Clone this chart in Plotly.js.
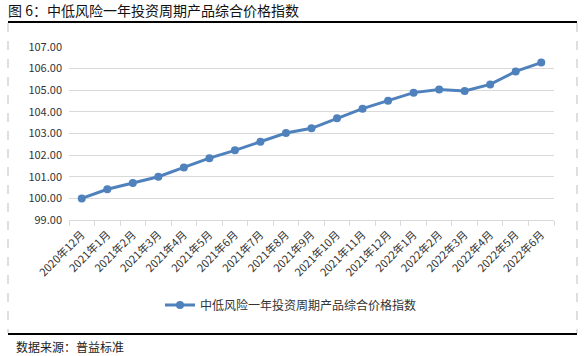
<!DOCTYPE html>
<html>
<head>
<meta charset="utf-8">
<script src="https://cdn.plot.ly/plotly-3.0.1.min.js"></script>
<style>
html,body{margin:0;padding:0;background:#fff;}
#chart{width:588px;height:356px;}
</style>
</head>
<body>
<div id="chart"></div>
<script>
const months = ["2020年12月","2021年1月","2021年2月","2021年3月","2021年4月","2021年5月","2021年6月","2021年7月","2021年8月","2021年9月","2021年10月","2021年11月","2021年12月","2022年1月","2022年2月","2022年3月","2022年4月","2022年5月","2022年6月"];
const indexValues = [100.00,100.42,100.71,101.00,101.43,101.86,102.22,102.62,103.02,103.24,103.70,104.15,104.52,104.89,105.03,104.97,105.27,105.87,106.28];
const seriesName = "中低风险一年投资周期产品综合价格指数";
const chartTitle = "图 6：中低风险一年投资周期产品综合价格指数";
const sourceText = "数据来源：普益标准";

const W = 588, H = 356;
const M = {l: 69, r: 34, t: 47, b: 136};
const PW = W - M.l - M.r, PH = H - M.t - M.b;
const px = x => (x - M.l) / PW;
const py = y => (H - M.b - y) / PH;

const FONT = '"Noto Sans CJK SC", "Noto Sans", sans-serif';
const BLUE = '#4F81BD';

const trace = {
  x: months,
  y: indexValues,
  type: 'scatter',
  mode: 'lines+markers',
  name: seriesName,
  line: {color: BLUE, width: 3},
  marker: {color: BLUE, size: 8},
  showlegend: true
};

const layout = {
  width: W, height: H,
  margin: M,
  paper_bgcolor: '#fff',
  plot_bgcolor: '#fff',
  font: {family: FONT, size: 11, color: '#333'},
  title: {
    text: chartTitle,
    x: 8 / W, xref: 'container', xanchor: 'left',
    y: 1 - 11 / H, yref: 'container', yanchor: 'middle',
    font: {family: FONT, size: 14, color: '#111'}
  },
  xaxis: {
    type: 'category',
    automargin: false,
    autorange: false,
    range: [-0.5, months.length - 0.5],
    tickson: 'boundaries',
    ticks: 'outside', ticklen: 5, tickcolor: '#d9d9d9', tickwidth: 1,
    showline: true, linecolor: '#d9d9d9', linewidth: 1,
    showgrid: false, zeroline: false,
    tickangle: -45,
    ticklabelstandoff: 3,
    tickfont: {family: FONT, size: 11, color: '#333'}
  },
  yaxis: {
    automargin: false,
    range: [99, 107], dtick: 1, tick0: 99,
    tickformat: '.2f',
    showgrid: true, gridcolor: '#d9d9d9', gridwidth: 1,
    showline: false, zeroline: false, ticks: '',
    ticklabelstandoff: 6,
    tickfont: {family: FONT, size: 11, color: '#333'}
  },
  legend: {
    orientation: 'h',
    x: px(160), xanchor: 'left',
    y: py(305), yanchor: 'middle',
    font: {family: FONT, size: 12, color: '#333'},
    bgcolor: 'rgba(0,0,0,0)'
  },
  annotations: [{
    text: sourceText,
    xref: 'paper', yref: 'paper',
    x: px(14), y: py(346), xanchor: 'left', yanchor: 'middle',
    showarrow: false,
    font: {family: FONT, size: 12, color: '#222'}
  }],
  shapes: [
    {type: 'line', xref: 'paper', yref: 'paper', x0: px(8), x1: px(577), y0: py(22), y1: py(22), line: {color: '#000', width: 2}},
    {type: 'line', xref: 'paper', yref: 'paper', x0: px(8), x1: px(577), y0: py(334), y1: py(334), line: {color: '#000', width: 2}},
    {type: 'line', xref: 'paper', yref: 'paper', x0: px(8), x1: px(8), y0: py(23), y1: py(333), line: {color: '#bfbfbf', width: 1, dash: 'dash'}},
    {type: 'line', xref: 'paper', yref: 'paper', x0: px(577), x1: px(577), y0: py(23), y1: py(333), line: {color: '#bfbfbf', width: 1, dash: 'dash'}}
  ]
};

Plotly.newPlot('chart', [trace], layout, {displayModeBar: false, staticPlot: true});
</script>
</body>
</html>
